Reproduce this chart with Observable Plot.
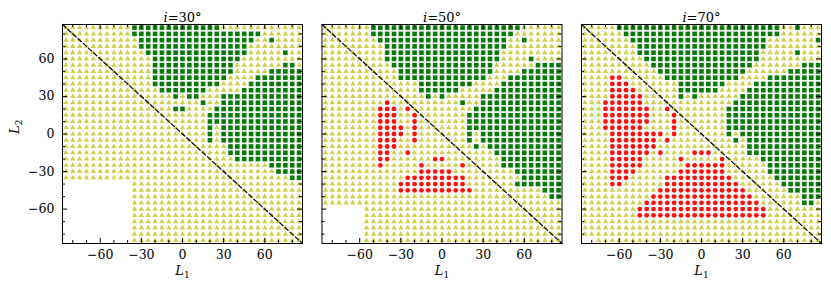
<!DOCTYPE html>
<html><head><meta charset="utf-8">
<script src="https://cdn.jsdelivr.net/npm/d3@7"></script>
<script src="https://cdn.jsdelivr.net/npm/@observablehq/plot@0.6"></script>
<style>
body{margin:0;background:#fff;}
#chart{width:831px;height:293px;overflow:hidden;}
</style></head><body><div id="chart"></div>
<script>
const panels = ["i=30°", "i=50°", "i=70°"];
const L1 = [-85,-80,-75,-70,-65,-60,-55,-50,-45,-40,-35,-30,-25,-20,-15,-10,-5,0,5,10,15,20,25,30,35,40,45,50,55,60,65,70,75,80,85];
const L2 = [85,80,75,70,65,60,55,50,45,40,35,30,25,20,15,10,5,0,-5,-10,-15,-20,-25,-30,-35,-40,-45,-50,-55,-60,-65,-70,-75,-80,-85];
// t = triangle, s = square, c = circle, . = no point ; columns follow L1, rows follow L2
const grid30 = [
"ttttt ttttt sssss sssss ssstt ttttt ttttt",
"ttttt ttttt sssss sssss sssss sssst ttttt",
"ttttt ttttt tssss sssss sssss ssstt stttt",
"ttttt ttttt tssss sssss sssss ssttt ttttt",
"ttttt ttttt ttsss sssss sssss ssttt ttstt",
"ttttt ttttt tttss sssss sssss stttt ttttt",
"ttttt ttttt tttss sssss sssss ttttt ttsst",
"ttttt ttttt tttss sssss sssss ttttt sssss",
"ttttt ttttt tttss sssss sssst tttss sssss",
"ttttt ttttt tttss sssss ssstt ttsss sssss",
"ttttt ttttt tttts sssss stttt tssss sssss",
"ttttt ttttt ttttt tstss tttss sssss sssss",
"ttttt ttttt ttttt ttttt sttss sssss sssss",
"ttttt ttttt ttttt tsstt ttsss sssss sssss",
"ttttt ttttt ttttt ttttt tssss sssss sssss",
"ttttt ttttt ttttt ttttt tssss sssss sssss",
"ttttt ttttt ttttt ttttt tstss sssss sssss",
"ttttt ttttt ttttt ttttt tstss sssss sssss",
"ttttt ttttt ttttt ttttt tstss sssss sssss",
"ttttt ttttt ttttt ttttt tttts sssss sssss",
"ttttt ttttt ttttt ttttt tttts sssss sssss",
"ttttt ttttt ttttt ttttt ttttt sssss sssss",
"ttttt ttttt ttttt ttttt ttttt ttttt sssss",
"ttttt ttttt ttttt ttttt ttttt ttttt tssss",
"ttttt ttttt ttttt ttttt ttttt ttttt tttss",
"..... ..... ttttt ttttt ttttt ttttt ttttt",
"..... ..... ttttt ttttt ttttt ttttt ttttt",
"..... ..... ttttt ttttt ttttt ttttt ttttt",
"..... ..... ttttt ttttt ttttt ttttt ttttt",
"..... ..... ttttt ttttt ttttt ttttt ttttt",
"..... ..... ttttt ttttt ttttt ttttt ttttt",
"..... ..... ttttt ttttt ttttt ttttt ttttt",
"..... ..... ttttt ttttt ttttt ttttt ttttt",
"..... ..... ttttt ttttt ttttt ttttt ttttt",
"..... ..... ttttt ttttt ttttt ttttt ttttt"
];
const grid50 = [
"ttttt ttsss sssss sssss sssss sssst ttttt",
"ttttt ttsss sssss sssss sssss ssstt ttttt",
"ttttt tttss sssss sssss sssss sstts ttttt",
"ttttt tttts sssss sssss sssss ssttt ttttt",
"ttttt tttts sssss sssss sssss stttt ttttt",
"ttttt tttts sssss sssss sssss stttt stttt",
"ttttt ttttt sssss sssss sssss ttttt tssss",
"ttttt ttttt tssss sssss sssss tttts sssss",
"ttttt ttttt tssss sssss sssst ttsss sssss",
"ttttt ttttt tttts sssss ssttt tssss sssss",
"ttttt ttttt tttts sssss ttttt sssss sssss",
"ttttt ttttt ttttt ststt tttss sssss sssss",
"ttttt ttttc ttttt ttttt sttss sssss sssss",
"ttttt tttcc ctctt ttttt ttsss sssss sssss",
"ttttt tttcc cttct ttttt tssss sssss sssss",
"ttttt tttcc cttct ttttt tssss sssss sssss",
"ttttt tttcc cctct ttttt tssss sssss sssss",
"ttttt tttcc cctct ttttt tstss sssss sssss",
"ttttt tttcc cttct ttttt tstss sssss sssss",
"ttttt tttcc ctttt ttttt ttsts sssss sssss",
"ttttt tttcc ttctt ttttt ttttt sssss sssss",
"ttttt tttcc ttttt tcctt ttttt tssss sssss",
"ttttt tttct ttttc ttttt ctttt tssss sssss",
"ttttt ttttt ttttc cccct ttttt tttss sssss",
"ttttt ttttt ttccc ccccc ctttt tttts sssss",
"ttttt ttttt tcccc ccccc ctttt tttss sssss",
"ttttt ttttt tcccc ccccc ccttt ttttt ttsss",
"ttttt ttttt ttttt ttttt ttttt ttttt tttss",
"ttttt ttttt ttttt ttttt ttttt ttttt ttttt",
"..... .tttt ttttt ttttt ttttt ttttt ttttt",
"..... .tttt ttttt ttttt ttttt ttttt ttttt",
"..... .tttt ttttt ttttt ttttt ttttt ttttt",
"..... .tttt ttttt ttttt ttttt ttttt ttttt",
"..... .tttt ttttt ttttt ttttt ttttt ttttt",
"..... .tttt ttttt ttttt ttttt ttttt ttttt"
];
const grid70 = [
"ttttt sssss sssss sssss sssss sssst tsttt",
"ttttt tssss sssss sssss sssss sssst ttttt",
"ttttt ttsss sssss sssss sssss ssttt tttts",
"ttttt tttss sssss sssss sssss ssttt ttttt",
"ttttt tttss sssss sssss sssss stttt tsttt",
"ttttt tttts sssss sssss sssss stttt ttttt",
"ttttt ttttt sssss sssss sssss ttttt ttsss",
"ttttt ttttt tssss sssss sssst ttttt sssss",
"ttttc ctttt ttsss sssss ssstt ttsss sssss",
"ttttc ccttt tttts sssss stttt sssss sssss",
"ttttc ccctt tttts sssss tttts sssss sssss",
"ttttc cccct tttts tsttt tttss sssss sssss",
"tttcc cccct ttttt ttttt ttsss sssss sssss",
"tttcc ccccc ttctt ttttt tssss sssss sssss",
"tttcc ccccc tttct ttttt tssss sssss sssss",
"tttcc ccccc tttct ttttt tssss sssss sssss",
"tttcc cccct tttct ttttt tssss sssss sssss",
"ttttc ccccc cctct ttttt tstss sssss sssss",
"ttttc ccccc ctctt ttttt ttsts sssss sssss",
"ttttc ccccc ctttt ttttt tttts sssss sssss",
"ttttc ccccc tcttt tccct tttts sssss sssss",
"ttttc cccct ttttc ttttt ctttt tssss sssss",
"ttttc cccct ttttt ccccc ctttt ttsss sssss",
"ttttc ccctt ttttc ccccc ctttt ttsss sssss",
"ttttc ccttt ttccc ccccc ccttt tttss sssss",
"ttttc ctttt ttccc ccccc ccctt tttts sssss",
"ttttt ttttt tcccc ccccc cccct ttttt sssss",
"ttttt ttttt ccccc ccccc ccccc ttttt ttsss",
"ttttt ttttc ccccc ccccc ccccc ctttt ttsst",
"ttttt tttcc ccccc ccccc ccccc ccttt ttttt",
"ttttt tttcc ccccc ccccc ccccc ccttt ttttt",
"ttttt ttttt ttttt ttttt ttttt ttttt ttttt",
"ttttt ttttt ttttt ttttt ttttt ttttt ttttt",
"ttttt ttttt ttttt ttttt ttttt ttttt ttttt",
"..ttt ttttt ttttt ttttt ttttt ttttt ttttt"
];
const xTicks = [-60, -30, 0, 30, 60];
const yTicks = [-60, -30, 0, 30, 60];
const minorTicks = [-80, -70, -50, -40, -20, -10, 10, 20, 40, 50, 70, 80];
const diagonal = [-87.5, 87.5];

const grids = [grid30, grid50, grid70];
const points = [];
grids.forEach((g, p) => g.forEach((row, r) => {
  const s = row.replace(/ /g, "");
  if (s.length !== L1.length) throw new Error("row length " + p + " " + r + " " + s.length);
  for (let c = 0; c < s.length; c++) {
    if (s[c] !== ".") points.push({panel: panels[p], L1: L1[c], L2: L2[r], kind: s[c]});
  }
}));

const H = 293, MT = 24, MB = 50, FH = H - MT - MB, FW = 240;
const chart = Plot.plot({
  width: 831, height: H,
  marginLeft: 62, marginRight: 10, marginTop: MT, marginBottom: MB,
  style: {fontFamily: "'DejaVu Serif', serif", fontSize: "12.5px", color: "black", background: "white"},
  fx: {domain: panels, paddingInner: 0.0751, paddingOuter: 0, axis: null, round: false},
  x: {domain: [-87.5, 87.5], ticks: xTicks, tickSize: 0, tickPadding: 7, label: null},
  y: {domain: [-87.5, 87.5], ticks: yTicks, tickSize: 0, tickPadding: 8, label: null},
  marks: [
    Plot.dot(points.filter(d => d.kind === "t"), {fx: "panel", x: "L1", y: "L2", symbol: "triangle", r: 2, fill: "#cfcf4c", stroke: "none"}),
    Plot.dot(points.filter(d => d.kind === "s"), {fx: "panel", x: "L1", y: "L2", symbol: "square", r: 2.6, fill: "#087a08", stroke: "none"}),
    Plot.dot(points.filter(d => d.kind === "c"), {fx: "panel", x: "L1", y: "L2", symbol: "circle", r: 2.4, fill: "#ff1010", stroke: "none"}),
    Plot.line(diagonal, {x: d => d, y: d => -d, stroke: "black", strokeWidth: 1.2, strokeDasharray: "4.5,2.5"}),
    Plot.tickX(xTicks, {x: d => d, insetTop: FH - 5, stroke: "black"}),
    Plot.tickX(xTicks, {x: d => d, insetBottom: FH - 5, stroke: "black"}),
    Plot.tickX(minorTicks, {x: d => d, insetTop: FH - 3, stroke: "black"}),
    Plot.tickX(minorTicks, {x: d => d, insetBottom: FH - 3, stroke: "black"}),
    Plot.tickY(yTicks, {y: d => d, insetRight: FW - 5, stroke: "black"}),
    Plot.tickY(yTicks, {y: d => d, insetLeft: FW - 5, stroke: "black"}),
    Plot.tickY(minorTicks, {y: d => d, insetRight: FW - 3, stroke: "black"}),
    Plot.tickY(minorTicks, {y: d => d, insetLeft: FW - 3, stroke: "black"}),
    Plot.frame({stroke: "black", strokeWidth: 1}),
    Plot.text(panels, {fx: d => d, text: d => d, frameAnchor: "top", dy: -12, fontSize: 13}),
    Plot.text(["L1"], {text: d => d, frameAnchor: "bottom", dy: 31, fontSize: 13}),
    Plot.text([{panel: panels[0], label: "L2"}], {fx: "panel", text: "label", frameAnchor: "left", dx: -48, rotate: -90, fontSize: 13})
  ]
});
document.getElementById("chart").appendChild(chart);

chart.querySelectorAll("text").forEach(t => {
  const s = t.textContent;
  let m;
  if ((m = s.match(/^i=(\d+)°$/))) {
    t.textContent = "";
    const a = document.createElementNS("http://www.w3.org/2000/svg", "tspan");
    a.setAttribute("font-style", "italic"); a.textContent = "i";
    const b = document.createElementNS("http://www.w3.org/2000/svg", "tspan");
    b.textContent = "=" + m[1] + "°";
    t.appendChild(a); t.appendChild(b);
  } else if ((m = s.match(/^L(\d)$/))) {
    t.textContent = "";
    const a = document.createElementNS("http://www.w3.org/2000/svg", "tspan");
    a.setAttribute("font-style", "italic"); a.textContent = "L";
    const b = document.createElementNS("http://www.w3.org/2000/svg", "tspan");
    b.setAttribute("font-size", "9"); b.setAttribute("dy", "3"); b.textContent = m[1];
    t.appendChild(a); t.appendChild(b);
  }
});
</script></body></html>
